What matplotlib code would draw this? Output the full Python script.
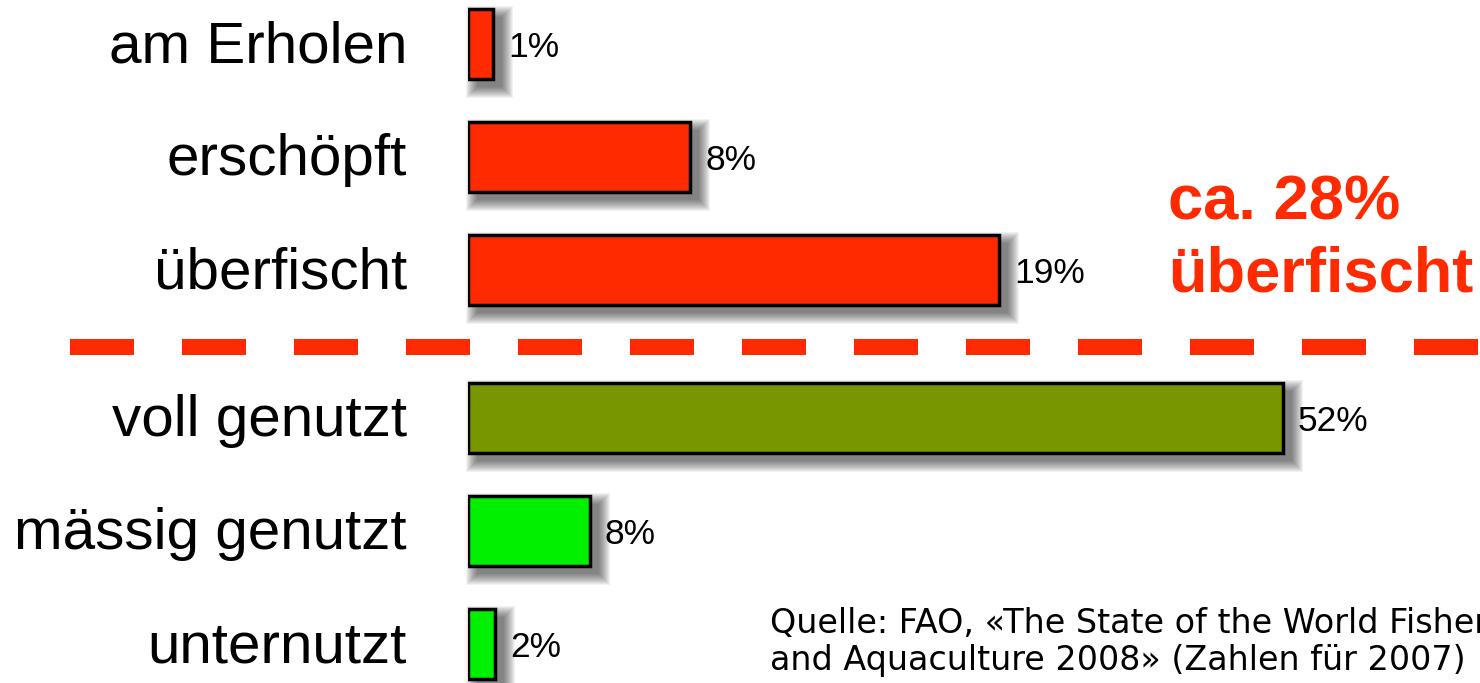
import matplotlib
matplotlib.use("Agg")
import matplotlib.pyplot as plt
from matplotlib.patches import Rectangle
from matplotlib.lines import Line2D

# ---- data ----
categories = ["am Erholen", "erschöpft", "überfischt",
              "voll genutzt", "mässig genutzt", "unternutzt"]
value_labels = ["1%", "8%", "19%", "52%", "8%", "2%"]
# bar lengths as drawn in the picture (in % units, scale set by the 19% bar)
bar_lengths = [0.9, 7.95, 19.0, 29.15, 4.35, 0.95]
bar_colors = ["#FF2A00", "#FF2A00", "#FF2A00", "#789600", "#00F000", "#00F000"]
# row positions (gap after the third row for the divider)
positions = [0, 1, 2, 3.31, 4.31, 5.31]
note_text = "ca. 28%\nüberfischt"
source_text = ("Quelle: FAO, «The State of the World Fisheries\n"
               "and Aquaculture 2008» (Zahlen für 2007)")

W, H, DPI = 1480, 683, 100
PX_PER_UNIT_X = 27.95   # pixels per % unit
PX_PER_ROW = 113.0
LEFT_PX = 468

plt.rcParams['font.family'] = ['Liberation Sans', 'DejaVu Sans']
plt.rcParams['lines.scale_dashes'] = False

fig = plt.figure(figsize=(W / DPI, H / DPI), dpi=DPI)
fig.patch.set_facecolor("white")
ax = fig.add_axes([LEFT_PX / W, 0, (W - LEFT_PX) / W, 1])
ax.set_xlim(0, (W - LEFT_PX) / PX_PER_UNIT_X)
ax.set_ylim((H - 44) / PX_PER_ROW, -44 / PX_PER_ROW)
ax.axis("off")

bar_h = 70 / PX_PER_ROW
px_x = 1 / PX_PER_UNIT_X
px_y = 1 / PX_PER_ROW

# soft drop shadows (offset right/down, blurred)
for pos, length in zip(positions, bar_lengths):
    for r in range(0, 12):
        ax.add_patch(Rectangle((9 * px_x - r * px_x, pos - bar_h / 2 + 8 * px_y - r * px_y),
                               length + 2 * r * px_x, bar_h + 2 * r * px_y,
                               facecolor="black", edgecolor="none", alpha=0.05,
                               zorder=1, clip_on=False))

bars = ax.barh(positions, bar_lengths, height=bar_h, color=bar_colors,
               edgecolor="black", linewidth=2.5, zorder=3)

for pos, length, lab in zip(positions, bar_lengths, value_labels):
    ax.annotate(lab, (length, pos), xytext=(11, 0), textcoords="offset points",
                ha="left", va="center_baseline", fontsize=25.5, color="black", zorder=4)

for pos, cat in zip(positions, categories):
    ax.annotate(cat, (0, pos), xytext=(-44, 2), textcoords="offset points",
                ha="right", va="center_baseline", fontsize=42, color="black",
                annotation_clip=False)

# divider
fig.add_artist(Line2D([70 / W, 1.05], [1 - 347 / H, 1 - 347 / H],
                      transform=fig.transFigure, color="#FF2A00",
                      linewidth=16 * 72 / DPI, linestyle=(0, (64 * 72 / DPI, 48 * 72 / DPI)),
                      solid_capstyle="butt", dash_capstyle="butt"))

fig.text(1168 / W, 1 - 292 / H, note_text, ha="left", va="baseline",
         fontsize=45.5, fontweight="bold", color="#FF2A00", linespacing=1.3)

fig.text(770 / W, 1 - 670 / H, source_text, ha="left", va="baseline",
         fontsize=24, color="black", family=["DejaVu Sans"], linespacing=1.15)

fig.savefig("out.png", dpi=DPI, facecolor="white")
